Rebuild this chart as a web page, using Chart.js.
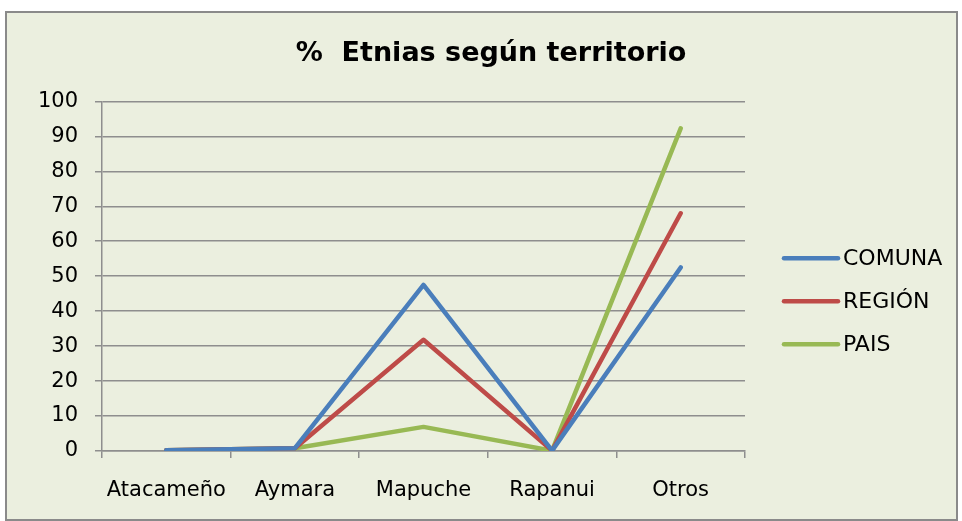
<!DOCTYPE html>
<html><head><meta charset="utf-8">
<script src="https://cdn.jsdelivr.net/npm/chart.js@4.4.1/dist/chart.umd.min.js"></script>
<style>html,body{margin:0;padding:0;background:#fff}</style></head>
<body>
<canvas id="c" width="962" height="521"></canvas>
<script>
const categories = ['Atacameño', 'Aymara', 'Mapuche', 'Rapanui', 'Otros'];
const seriesNames = ['COMUNA', 'REGIÓN', 'PAIS'];
const comuna = [0.2, 0.8, 47.5, 0.1, 52.5];
const region = [0.2, 0.8, 31.8, 0.1, 68];
const pais   = [0.2, 0.8, 6.9, 0.1, 92.3];
const yMin = 0, yMax = 100, yStep = 10;
const titleText = '%  Etnias según territorio';

const FONT = 'DejaVu Sans';
const BG = '#EBEFDF';
const GRID = '#8E8E8E';
const COLORS = ['#4A7EBB', '#BE4B48', '#98B954'];

const framePlugin = {
  id: 'frame',
  beforeDraw(chart) {
    const ctx = chart.ctx;
    ctx.save();
    ctx.fillStyle = '#ffffff';
    ctx.fillRect(0, 0, chart.width, chart.height);
    ctx.fillStyle = BG;
    ctx.fillRect(6, 12, 951, 508);
    ctx.strokeStyle = '#8a8a8a';
    ctx.lineWidth = 2;
    ctx.strokeRect(6, 12, 951, 508);
    ctx.restore();
  }
};

// Legend drawn beside the plot, from the datasets' own labels and colours
const sideLegend = {
  id: 'sideLegend',
  afterDraw(chart) {
    const ctx = chart.ctx;
    const area = chart.chartArea;
    const x0 = area.right + 39, lineW = 54, gap = 5, rowH = 43;
    const n = chart.data.datasets.length;
    const midY = (area.top + area.bottom) / 2 + 25;
    ctx.save();
    ctx.font = '22px "' + FONT + '"';
    ctx.textBaseline = 'middle';
    ctx.textAlign = 'left';
    chart.data.datasets.forEach((ds, i) => {
      const y = midY + (i - (n - 1) / 2) * rowH;
      ctx.strokeStyle = ds.borderColor;
      ctx.lineWidth = 4.5;
      ctx.lineCap = 'round';
      ctx.beginPath();
      ctx.moveTo(x0, y);
      ctx.lineTo(x0 + lineW, y);
      ctx.stroke();
      ctx.fillStyle = '#000';
      ctx.fillText(ds.label, x0 + lineW + gap, y + 1);
    });
    ctx.restore();
  }
};

new Chart(document.getElementById('c'), {
  type: 'line',
  data: {
    labels: categories,
    datasets: [
      { label: seriesNames[0], data: comuna, borderColor: COLORS[0], backgroundColor: COLORS[0], borderWidth: 4.5 },
      { label: seriesNames[1], data: region, borderColor: COLORS[1], backgroundColor: COLORS[1], borderWidth: 4.5 },
      { label: seriesNames[2], data: pais,   borderColor: COLORS[2], backgroundColor: COLORS[2], borderWidth: 4.5 }
    ]
  },
  options: {
    responsive: false,
    animation: false,
    devicePixelRatio: 1,
    layout: { padding: { left: 28, right: 8, top: 12, bottom: 0 } },
    elements: {
      line: { tension: 0, borderCapStyle: 'round', borderJoinStyle: 'round', fill: false },
      point: { radius: 0, hoverRadius: 0 }
    },
    plugins: {
      title: {
        display: true, text: titleText, color: '#000',
        font: { family: FONT, size: 27, weight: 'bold' },
        padding: { top: 26, bottom: 31 }
      },
      legend: { display: false },
      tooltip: { enabled: false }
    },
    scales: {
      x: {
        offset: true,
        afterFit(s) { s.height = 70; },
        grid: { display: true, drawOnChartArea: false, drawTicks: true, tickLength: 7, offset: true, color: GRID, lineWidth: 1.5 },
        border: { display: true, color: GRID, width: 1.5 },
        ticks: { color: '#000', font: { family: FONT, size: 21 }, padding: 20, maxRotation: 0 }
      },
      y: {
        min: yMin, max: yMax,
        afterFit(s) { s.width = 74; },
        grid: { color: GRID, lineWidth: 1.5, tickLength: 7 },
        border: { display: true, color: GRID, width: 1.5 },
        ticks: { stepSize: yStep, color: '#000', font: { family: FONT, size: 21 }, padding: 17 }
      },
      legendSpace: {
        position: 'right', display: true,
        afterFit(s) { s.width = 209; },
        grid: { display: false }, border: { display: false }, ticks: { display: false }
      }
    }
  },
  plugins: [framePlugin, sideLegend]
});
</script>
</body></html>
